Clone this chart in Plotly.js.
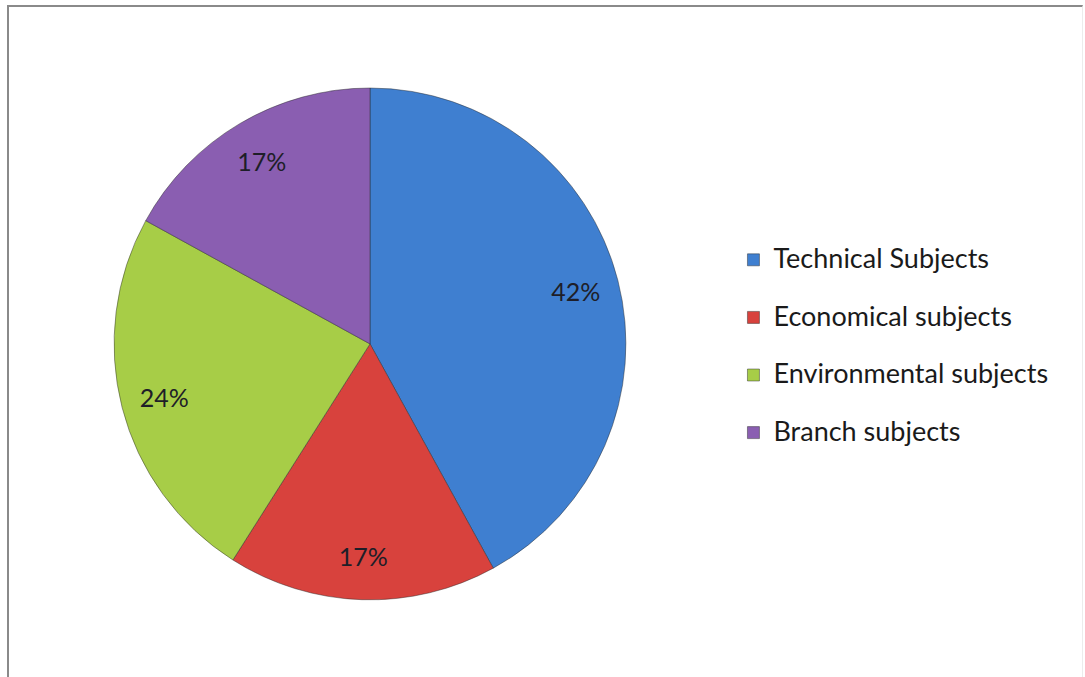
<!DOCTYPE html>
<html>
<head>
<meta charset="utf-8">
<script src="https://cdn.plot.ly/plotly-3.0.1.min.js"></script>
<style>
  html, body { margin: 0; padding: 0; background: #ffffff; }
  #wrap { position: relative; width: 1085px; height: 677px; overflow: hidden; }
  #frame { position: absolute; left: 7px; top: 5px; width: 1073px; height: 700px;
           border-left: 2px solid #8a8a8a; border-top: 2px solid #8a8a8a; border-right: 1px solid #ececec; }
  #chart { position: absolute; left: 0; top: 0; width: 1085px; height: 677px; }
</style>
</head>
<body>
<div id="wrap">
  <div id="frame"></div>
  <div id="chart"></div>
</div>
<script>
const categories = ["Technical Subjects", "Economical subjects", "Environmental subjects", "Branch subjects"];
const shares = [42, 17, 24, 17];
const colors = ["#3F7FD0", "#D8423D", "#A7CD47", "#8A5EB1"];

const labelHtml = categories.map(c => '<span style="font-size:27px">' + c + '</span><br> ');
const pieDomain = { x: [0.105, 0.577], y: [0.114, 0.870] };

const slices = {
  type: 'pie',
  labels: labelHtml,
  values: shares,
  sort: false,
  direction: 'clockwise',
  rotation: 0,
  marker: { colors: colors, line: { color: 'rgba(40,40,40,0.45)', width: 1 } },
  textinfo: 'none',
  hoverinfo: 'none',
  domain: pieDomain
};

// transparent ring carrying the percentage labels near the rim
const labelRing = {
  type: 'pie',
  labels: categories,
  values: shares,
  sort: false,
  direction: 'clockwise',
  rotation: 0,
  hole: 0.66,
  showlegend: false,
  marker: { colors: colors.map(() => 'rgba(0,0,0,0)'), line: { width: 0 } },
  texttemplate: '%{value}%',
  textposition: 'inside',
  insidetextorientation: 'horizontal',
  textfont: { family: 'Lato, "Noto Sans", sans-serif', size: 25, color: '#1e1e28' },
  hoverinfo: 'none',
  domain: pieDomain
};

const layout = {
  width: 1085, height: 677,
  margin: { l: 0, r: 0, t: 0, b: 0 },
  paper_bgcolor: 'rgba(0,0,0,0)',
  plot_bgcolor: 'rgba(0,0,0,0)',
  showlegend: true,
  legend: {
    x: 0.676, xanchor: 'left', y: 0.468, yanchor: 'middle',
    valign: 'top',
    font: { family: 'Lato, "Noto Sans", sans-serif', size: 21, color: '#1a1a1a' },
    bgcolor: 'rgba(0,0,0,0)'
  }
};

Plotly.newPlot('chart', [slices, labelRing], layout, { displayModeBar: false, staticPlot: true });
</script>
</body>
</html>
